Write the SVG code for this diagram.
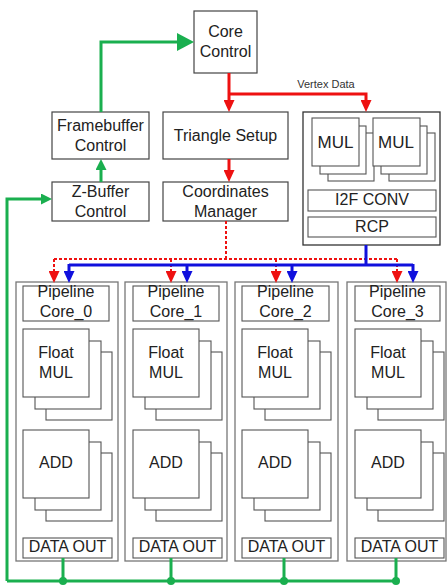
<svg xmlns="http://www.w3.org/2000/svg" width="448" height="586" viewBox="0 0 448 586">
<defs>
<style>
text{font-family:"Liberation Sans",Arial,sans-serif;font-size:16px;fill:#222;text-anchor:middle}
.box{fill:#fff;stroke:#444;stroke-width:1.2}
.ibox{fill:#fff;stroke:#555;stroke-width:1.1}
.outer{fill:#fff;stroke:#777;stroke-width:1.3}
.g{fill:none;stroke:#1aaf4f;stroke-width:3}
.r{fill:none;stroke:#ee1111;stroke-width:3}
.rd{fill:none;stroke:#ee1111;stroke-width:2;stroke-dasharray:3 2}
.b{fill:none;stroke:#1010dd;stroke-width:3}
</style>
<marker id="ahR" markerUnits="userSpaceOnUse" viewBox="0 0 12 11" markerWidth="12" markerHeight="11" refX="0" refY="5.5" orient="auto"><path d="M0,0 L12,5.5 L0,11 z" fill="#ee1111"/></marker>
<marker id="ahB" markerUnits="userSpaceOnUse" viewBox="0 0 12 11" markerWidth="12" markerHeight="11" refX="0" refY="5.5" orient="auto"><path d="M0,0 L12,5.5 L0,11 z" fill="#1010dd"/></marker>
<marker id="ahG" markerUnits="userSpaceOnUse" viewBox="0 0 11 11" markerWidth="11" markerHeight="11" refX="0" refY="5.5" orient="auto"><path d="M0,0 L11,5.5 L0,11 z" fill="#1aaf4f"/></marker>
<marker id="ahGb" markerUnits="userSpaceOnUse" viewBox="0 0 17 18" markerWidth="17" markerHeight="18" refX="0" refY="9" orient="auto"><path d="M0,0 L17,9 L0,18 z" fill="#1aaf4f"/></marker>
<g id="stack">
<rect class="ibox" x="23" y="23" width="66" height="68"/>
<rect class="ibox" x="12" y="12" width="66" height="68"/>
<rect class="ibox" x="0" y="0" width="66" height="68"/>
</g>
<g id="mulstack">
<rect class="ibox" x="16" y="15" width="46" height="48"/>
<rect class="ibox" x="8" y="8" width="46" height="48"/>
<rect class="ibox" x="0" y="0" width="47" height="48"/>
</g>
</defs>
<rect width="448" height="586" fill="#fff"/>

<g id="core-control"><rect class="box" x="194" y="11" width="63" height="62"/><text x="225.5" y="37">Core</text><text x="225.5" y="57">Control</text></g>
<g id="framebuffer-control"><rect class="box" x="52" y="112" width="97" height="47"/><text x="100.5" y="131">Framebuffer</text><text x="100.5" y="151">Control</text></g>
<g id="triangle-setup"><rect class="box" x="163" y="112" width="125" height="47"/><text x="225.5" y="141">Triangle Setup</text></g>
<g id="zbuffer-control"><rect class="box" x="52" y="182" width="97" height="39"/><text x="100.5" y="197">Z-Buffer</text><text x="100.5" y="217">Control</text></g>
<g id="coordinates-manager"><rect class="box" x="163" y="182" width="125" height="39"/><text x="225.5" y="197">Coordinates</text><text x="225.5" y="217">Manager</text></g>

<g id="vertex-unit">
<rect x="303" y="112" width="137" height="133" fill="#fff" stroke="#333" stroke-width="1.3"/>
<use href="#mulstack" x="312" y="118"/>
<use href="#mulstack" x="373" y="118"/>
<text x="335.5" y="148" style="font-size:17px">MUL</text>
<text x="396" y="148" style="font-size:17px">MUL</text>
<rect class="ibox" x="308" y="190" width="128" height="21"/><text x="372" y="205">I2F CONV</text>
<rect class="ibox" x="308" y="217" width="128" height="20"/><text x="372" y="232">RCP</text>
</g>

<g id="core0">
<rect class="outer" x="16" y="282" width="102" height="279"/>
<rect class="ibox" x="23" y="286" width="86" height="35"/><text x="66" y="297">Pipeline</text><text x="66" y="317">Core_0</text>
<use href="#stack" x="23" y="329"/><text x="56" y="358">Float</text><text x="56" y="378">MUL</text>
<use href="#stack" x="23" y="430"/><text x="56" y="468">ADD</text>
<rect class="ibox" x="23" y="538" width="89" height="20"/><text x="67.5" y="552">DATA OUT</text>
</g>
<g id="core1">
<rect class="outer" x="125" y="282" width="102" height="279"/>
<rect class="ibox" x="133" y="286" width="86" height="35"/><text x="176" y="297">Pipeline</text><text x="176" y="317">Core_1</text>
<use href="#stack" x="133" y="329"/><text x="166" y="358">Float</text><text x="166" y="378">MUL</text>
<use href="#stack" x="133" y="430"/><text x="166" y="468">ADD</text>
<rect class="ibox" x="133" y="538" width="89" height="20"/><text x="177.5" y="552">DATA OUT</text>
</g>
<g id="core2">
<rect class="outer" x="235" y="282" width="103" height="279"/>
<rect class="ibox" x="242" y="286" width="87" height="35"/><text x="285.5" y="297">Pipeline</text><text x="285.5" y="317">Core_2</text>
<use href="#stack" x="242" y="329"/><text x="275" y="358">Float</text><text x="275" y="378">MUL</text>
<use href="#stack" x="242" y="430"/><text x="275" y="468">ADD</text>
<rect class="ibox" x="242" y="538" width="89" height="20"/><text x="286.5" y="552">DATA OUT</text>
</g>
<g id="core3">
<rect class="outer" x="347" y="282" width="99" height="279"/>
<rect class="ibox" x="355" y="286" width="85" height="35"/><text x="397.5" y="297">Pipeline</text><text x="397.5" y="317">Core_3</text>
<use href="#stack" x="355" y="329"/><text x="388" y="358">Float</text><text x="388" y="378">MUL</text>
<use href="#stack" x="355" y="430"/><text x="388" y="468">ADD</text>
<rect class="ibox" x="355" y="538" width="89" height="20"/><text x="399.5" y="552">DATA OUT</text>
</g>

<g id="connectors">
<path class="g" d="M101,112 V42 H177" marker-end="url(#ahGb)"/>
<path class="g" d="M101,182 V170" marker-end="url(#ahG)"/>
<path class="g" d="M7,581 V199 H41" marker-end="url(#ahG)"/>
<path class="g" d="M7,581 H396 M63,558 V581 M171,558 V581 M284,558 V581 M396,558 V581"/>
<g fill="#1aaf4f"><circle cx="63" cy="581" r="4"/><circle cx="171" cy="581" r="4"/><circle cx="284" cy="581" r="4"/><circle cx="396" cy="581" r="4"/></g>

<path class="r" d="M229,73 V100" marker-end="url(#ahR)"/>
<path class="r" d="M229,94 H366 V100" marker-end="url(#ahR)"/>
<text x="326" y="88" style="font-size:11px;fill:#333">Vertex Data</text>
<path class="r" d="M229,159 V170" marker-end="url(#ahR)"/>

<path class="rd" d="M226,221 V259 M54,259 H397"/>
<path class="rd" d="M54,259 V271" marker-end="url(#ahR)"/>
<path class="rd" d="M171,259 V271" marker-end="url(#ahR)"/>
<path class="rd" d="M276,259 V271" marker-end="url(#ahR)"/>
<path class="rd" d="M397,259 V271" marker-end="url(#ahR)"/>

<path class="b" d="M366,245 V265 M69,265 H413"/>
<path class="b" d="M69,264 V271" marker-end="url(#ahB)"/>
<path class="b" d="M187,264 V271" marker-end="url(#ahB)"/>
<path class="b" d="M292,264 V271" marker-end="url(#ahB)"/>
<path class="b" d="M413,264 V271" marker-end="url(#ahB)"/>
</g>
</svg>
